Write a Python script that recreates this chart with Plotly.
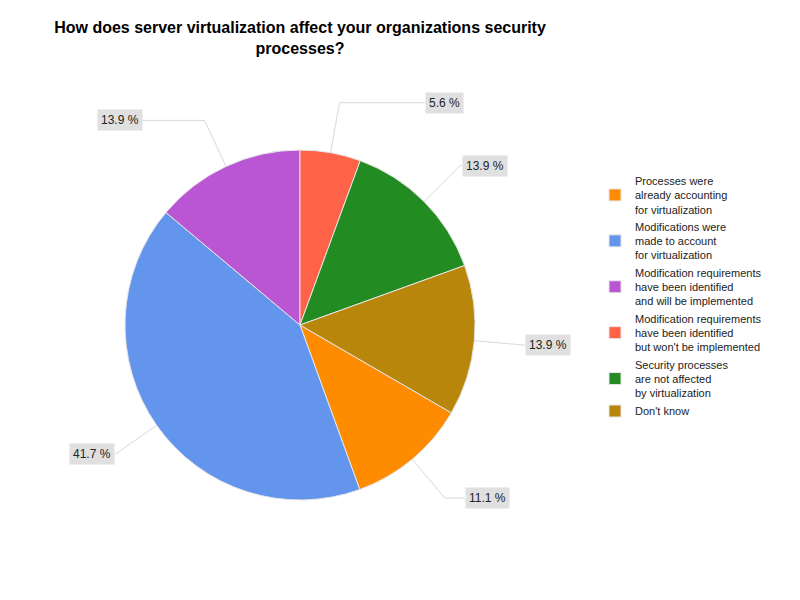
import math
import plotly.graph_objects as go

# ---- data ----
categories = [
    "Processes were<br>already accounting<br>for virtualization",
    "Modifications were<br>made to account<br>for virtualization",
    "Modification requirements<br>have been identified<br>and will be implemented",
    "Modification requirements<br>have been identified<br>but won't be implemented",
    "Security processes<br>are not affected<br>by virtualization",
    "Don't know",
]
percent_values = [11.1, 41.7, 13.9, 5.6, 13.9, 13.9]
slice_colors = ["#FF8C00", "#6495ED", "#BA55D3", "#FF6347", "#228B22", "#B8860B"]
title_text = "How does server virtualization affect your organizations security<br>processes?"

# ---- layout parameters ----
W, H = 800, 600
CX, CY, R = 300, 325, 175          # pie centre / radius in pixels
TOP_SLICE = 3                      # slice that starts at 12 o'clock
FONT = "Arial, Liberation Sans, sans-serif"

total = sum(percent_values)
# plotly: rotation = start angle of first slice, clockwise from 12 o'clock
rotation_plotly = sum(percent_values[TOP_SLICE:]) / total * 360.0

fig = go.Figure()
fig.add_trace(go.Pie(
    labels=categories,
    values=percent_values,
    sort=False,
    direction="clockwise",
    rotation=rotation_plotly,
    marker=dict(colors=slice_colors, line=dict(color="#e6e6e6", width=1)),
    textinfo="none",
    hoverinfo="skip",
    domain=dict(x=[(CX - R) / W, (CX + R) / W], y=[1 - (CY + R) / H, 1 - (CY - R) / H]),
))

def px(x):
    return x / W

def py(y):
    return 1 - y / H

annotations = []
shapes = []
cum = 0.0
for v in percent_values:
    mid = (rotation_plotly + (cum + v / 2) / total * 360.0) * math.pi / 180
    cum += v
    s, c = math.sin(mid), math.cos(mid)
    x0, y0 = CX + R * s, CY - R * c
    re = R * 1.29
    x1, y1 = CX + re * s, CY - re * c
    L = max(0.0, abs(c) - 0.7) * 300
    side = 1 if s >= 0 else -1
    x2 = x1 + side * L
    shapes.append(dict(
        type="path", xref="paper", yref="paper",
        path=f"M {px(x0)},{py(y0)} L {px(x1)},{py(y1)} L {px(x2)},{py(y1)}",
        line=dict(color="#d9d9d9", width=1),
    ))
    annotations.append(dict(
        xref="paper", yref="paper", x=px(x2), y=py(y1),
        xanchor="left" if side > 0 else "right", yanchor="middle",
        text=f"{v:.1f} %", showarrow=False,
        font=dict(family=FONT, size=12, color="#222222"),
        bgcolor="#e0e0e0", borderpad=3,
    ))

fig.update_layout(
    width=W, height=H,
    margin=dict(l=0, r=0, t=0, b=0),
    paper_bgcolor="white", plot_bgcolor="white",
    title=dict(
        text=title_text, x=CX / W, xanchor="center",
        y=1 - 33 / H, yanchor="top", yref="container",
        font=dict(family=FONT, size=16, color="#000000", weight="bold"),
    ),
    legend=dict(
        x=595 / W, y=1 - 167 / H, xanchor="left", yanchor="top",
        font=dict(family=FONT, size=11, color="#222222"),
        traceorder="normal", itemclick=False, itemdoubleclick=False,
    ),
    annotations=annotations,
    shapes=shapes,
)

fig.write_html("out.html", config={"displayModeBar": False},
               post_script="document.body.style.margin='0';")
